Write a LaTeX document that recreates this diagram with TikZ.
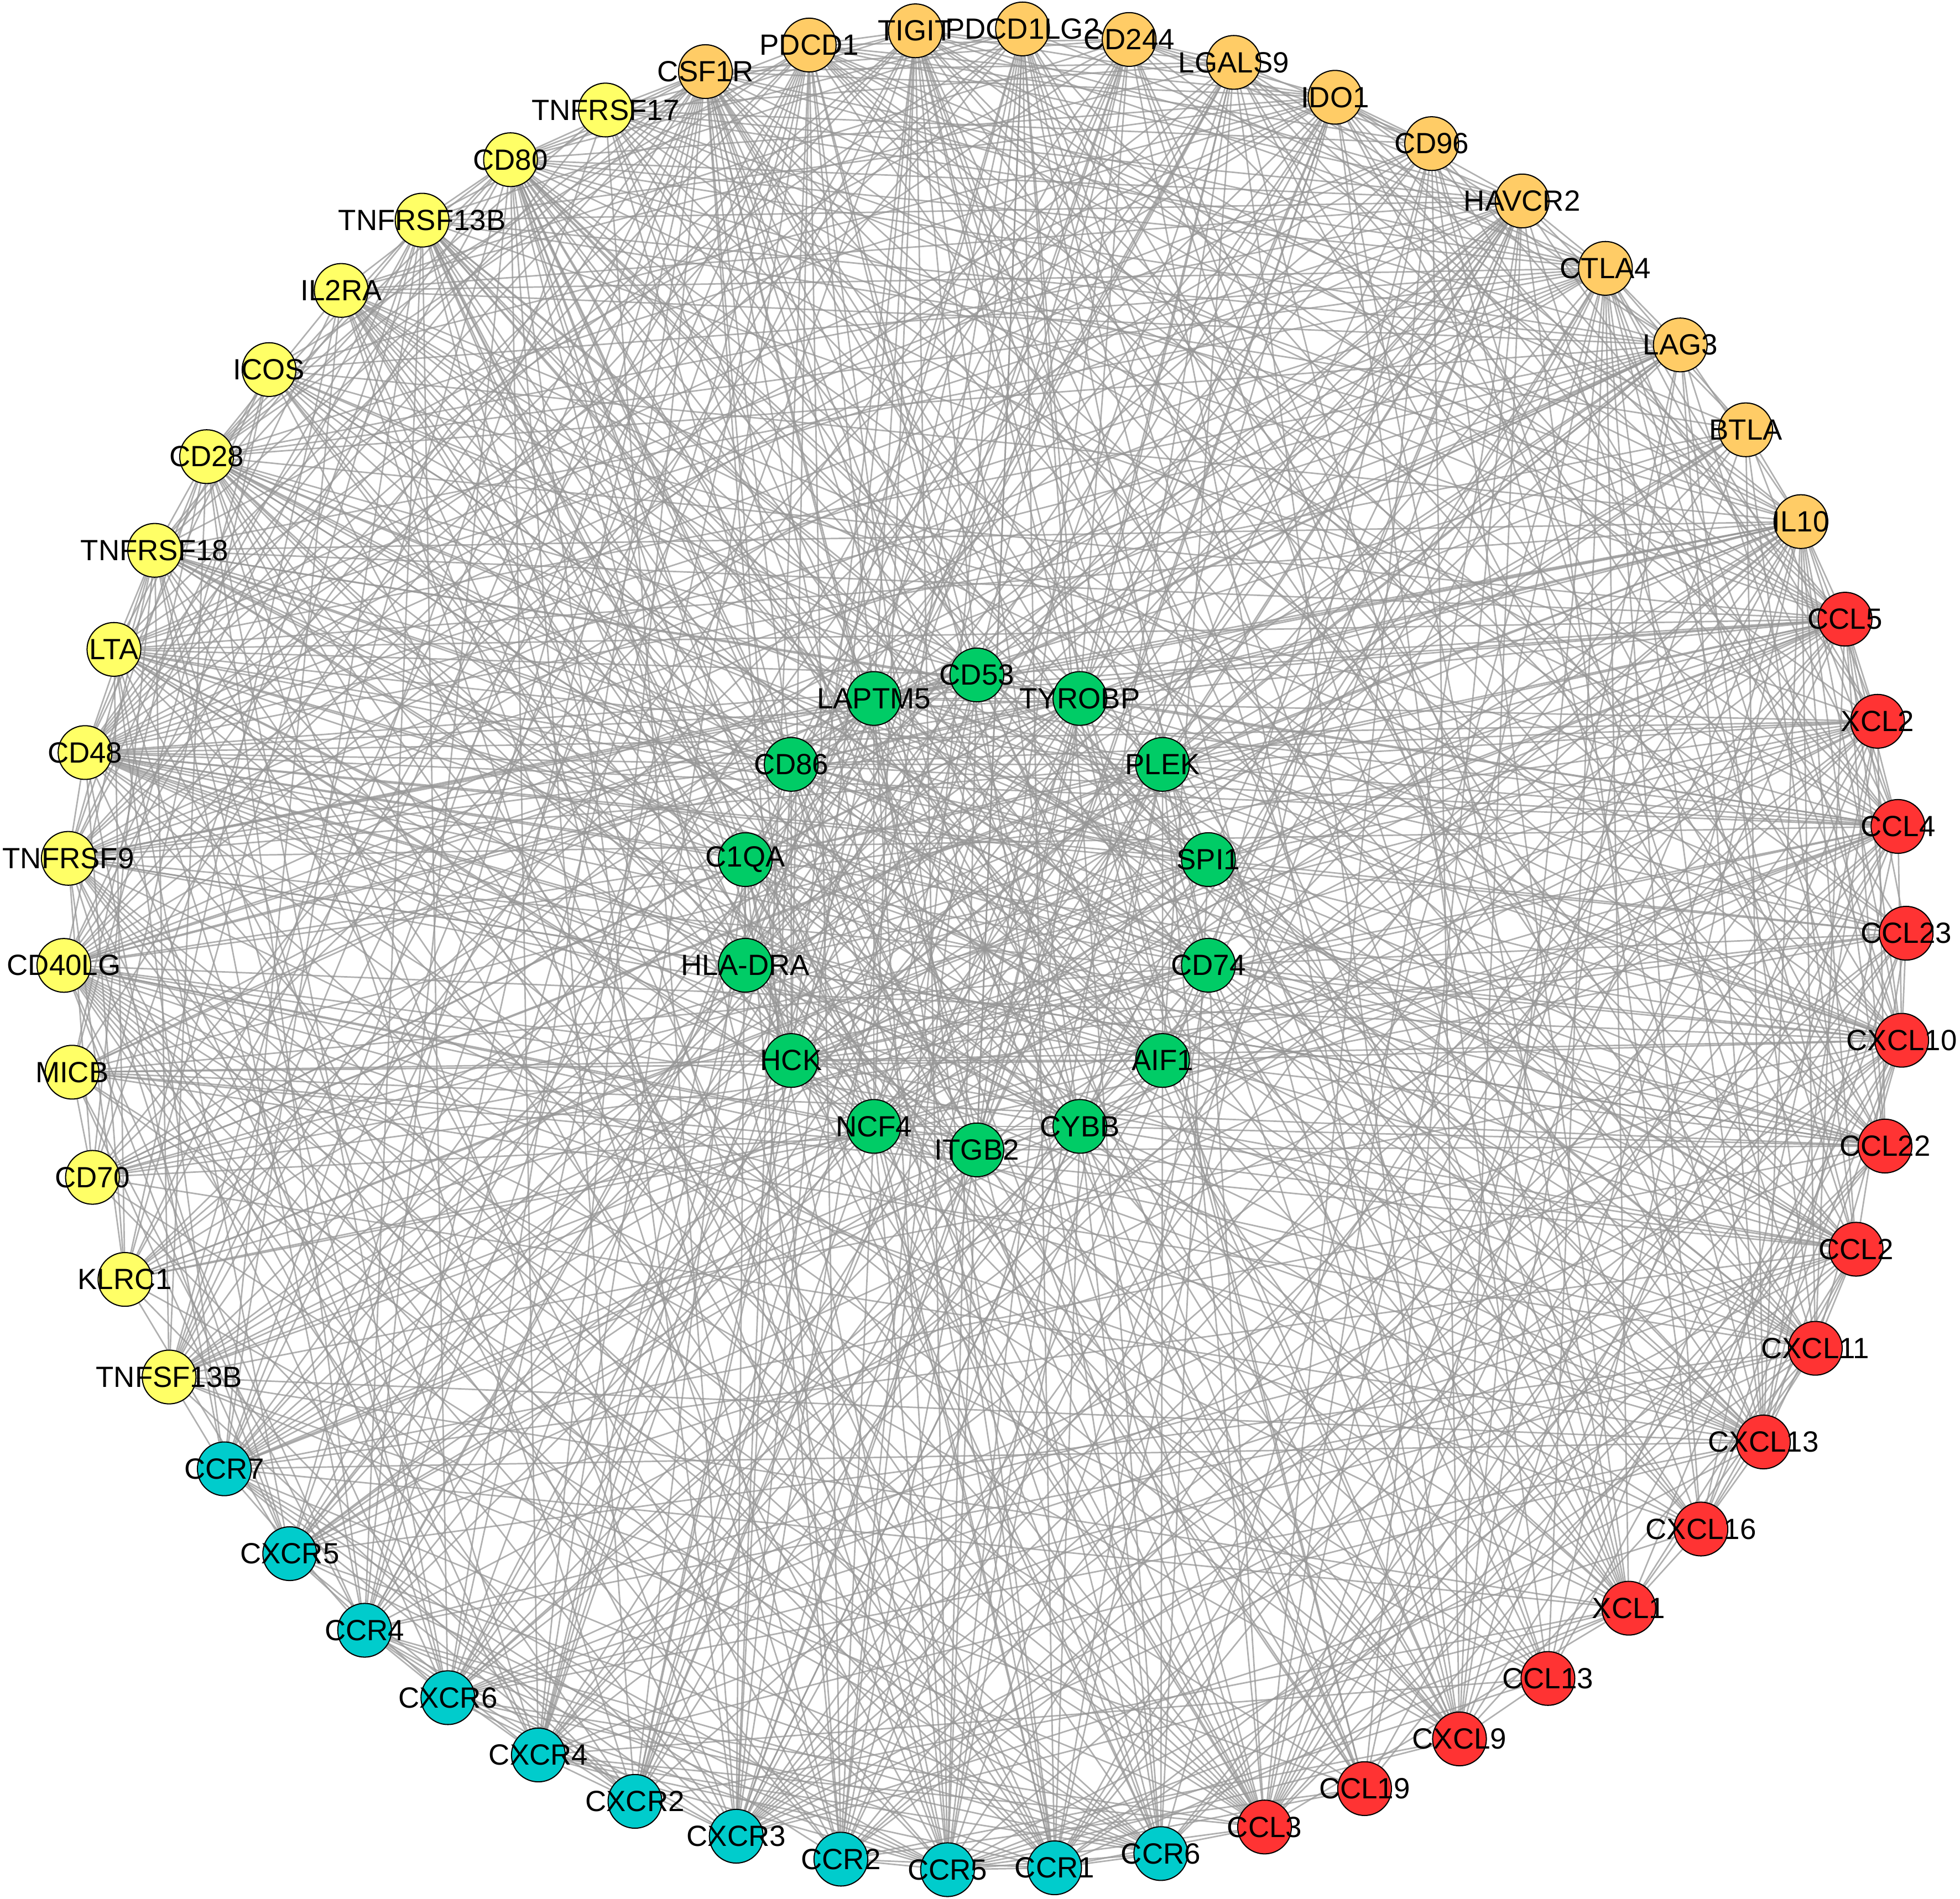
\documentclass[tikz,border=0pt]{standalone}
\usepackage{fontspec}
\setmainfont{Liberation Sans}
\usetikzlibrary{calc}
\pgfdeclarelayer{bg}\pgfsetlayers{bg,main}
\definecolor{cor}{RGB}{255,204,102}
\definecolor{cred}{RGB}{255,51,51}
\definecolor{ccy}{RGB}{0,204,204}
\definecolor{cye}{RGB}{255,255,102}
\definecolor{cgr}{RGB}{0,204,102}
\definecolor{edgegray}{RGB}{150,150,150}
\begin{document}
\begin{tikzpicture}[x=1pt,y=-1pt,
  nd/.style={circle, draw=black, line width=0.9pt, minimum size=43pt, inner sep=0pt},
  lbl/.style={font=\fontsize{23.4}{27}\selectfont, inner sep=0pt, text=black},
  edge/.style={draw=edgegray, line width=1.2pt, opacity=0.75}]
\useasboundingbox (0,0) rectangle (1568,1519);
\coordinate (oc) at (788,759.5);
\coordinate (ic) at (781.5,730);
% outer ring: 54 nodes, evenly spaced
\foreach \i/\t/\c in {
 1/CSF1R/cor, 2/PDCD1/cor, 3/TIGIT/cor, 4/PDCD1LG2/cor,
 5/CD244/cor, 6/LGALS9/cor, 7/IDO1/cor, 8/CD96/cor,
 9/HAVCR2/cor, 10/CTLA4/cor, 11/LAG3/cor, 12/BTLA/cor,
 13/IL10/cor,
 14/CCL5/cred, 15/XCL2/cred, 16/CCL4/cred, 17/CCL23/cred,
 18/CXCL10/cred, 19/CCL22/cred, 20/CCL2/cred, 21/CXCL11/cred,
 22/CXCL13/cred, 23/CXCL16/cred, 24/XCL1/cred, 25/CCL13/cred,
 26/CXCL9/cred, 27/CCL19/cred, 28/CCL3/cred,
 29/CCR6/ccy, 30/CCR1/ccy, 31/CCR5/ccy, 32/CCR2/ccy,
 33/CXCR3/ccy, 34/CXCR2/ccy, 35/CXCR4/ccy, 36/CXCR6/ccy,
 37/CCR4/ccy, 38/CXCR5/ccy, 39/CCR7/ccy,
 40/TNFSF13B/cye, 41/KLRC1/cye, 42/CD70/cye, 43/MICB/cye,
 44/CD40LG/cye, 45/TNFRSF9/cye, 46/CD48/cye, 47/LTA/cye,
 48/TNFRSF18/cye, 49/CD28/cye, 50/ICOS/cye, 51/IL2RA/cye,
 52/TNFRSF13B/cye, 53/CD80/cye, 54/TNFRSF17/cye}
 {\pgfmathsetmacro\ang{-1+(\i-17)*360/54}
  \node[nd, fill=\c, label={[lbl]center:\t}] (v\i) at ($(oc)+(\ang:737)$) {};}
% inner ring: 14 nodes
\foreach \i/\t in {
 55/CD53, 56/TYROBP, 57/PLEK, 58/SPI1, 59/CD74, 60/AIF1, 61/CYBB,
 62/ITGB2, 63/NCF4, 64/HCK, 65/HLA-DRA, 66/C1QA, 67/CD86, 68/LAPTM5}
 {\pgfmathsetmacro\ang{-90+(\i-55)*360/14}
  \node[nd, fill=cgr, label={[lbl]center:\t}] (v\i) at ($(ic)+(\ang:190)$) {};}
\def\wts{{1.6,1.1,1.0,1.0,1.1,1.0,1.3,0.9,1.1,1.2,1.0,0.9,1.5,
 1.5,1.0,1.4,0.9,1.3,1.0,1.2,1.0,1.1,1.0,1.0,0.9,1.2,1.1,1.3,
 1.0,1.3,1.4,1.2,1.2,1.0,1.2,1.0,1.0,1.0,1.2,
 1.0,0.9,0.9,0.8,1.4,1.2,1.4,1.0,1.2,1.2,1.1,1.1,0.9,1.5,0.8,
 1.0,1.2,1.0,1.1,1.1,1.0,1.1,1.3,1.0,1.1,1.0,1.0,1.5,1.1}}
\pgfmathsetseed{20231}
\begin{pgfonlayer}{bg}
\foreach \i in {1,...,67}{
  \pgfmathtruncatemacro\s{\i+1}
  \pgfmathsetmacro\wi{\wts[\i-1]}
  \foreach \j in {\s,...,68}{
    \pgfmathsetmacro\wj{\wts[\j-1]}
    \pgfmathtruncatemacro\ok{rnd < 0.34*\wi*\wj ? 1 : 0}
    \ifnum\ok=1 \draw[edge] (v\i) -- (v\j);\fi
  }
}
\end{pgfonlayer}
\end{tikzpicture}
\end{document}
